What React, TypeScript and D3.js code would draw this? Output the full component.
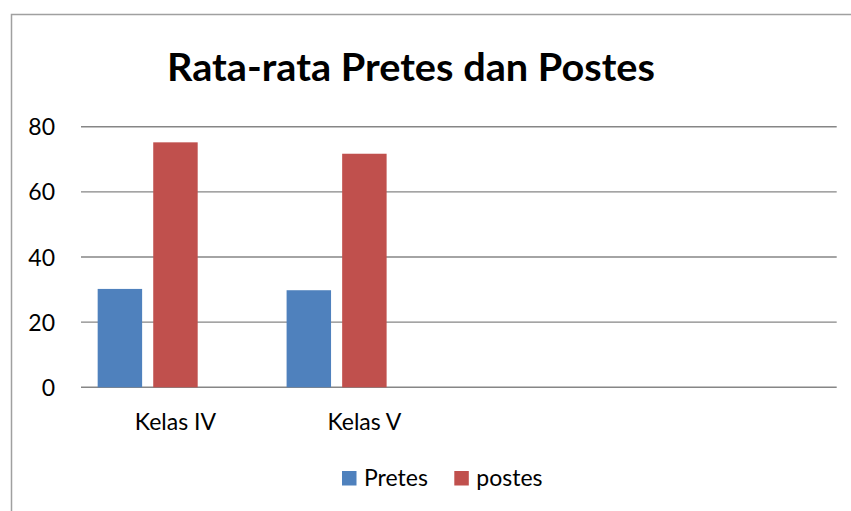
import React, { useRef, useEffect } from "react";
import { select, scaleBand, scaleLinear, axisLeft } from "d3";

// data
const categories = ["Kelas IV", "Kelas V", "", ""];
const seriesNames = ["Pretes", "postes", ""];
const pretes = [30.2, 29.8, null, null];
const postes = [75.2, 71.7, null, null];
const blank = [null, null, null, null];
const yTicks = [0, 20, 40, 60, 80];
const colors = ["#4F81BD", "#C0504D", "#9BBB59"];

const W = 851;
const H = 511;
const FONT = "Lato, Carlito, Calibri, sans-serif";

const App = () => {
  const svgRef = useRef<SVGSVGElement>(null);

  useEffect(() => {
    const svg = select(svgRef.current);
    svg.selectAll("*").remove();

    const plotLeft = 81;
    const plotRight = 836.7;
    const plotTop = 126.7;
    const plotBottom = 387.3;

    const x0 = scaleBand<number>()
      .domain(categories.map((_, i) => i))
      .range([plotLeft, plotRight]);
    const x1 = scaleBand<number>()
      .domain(seriesNames.map((_, i) => i))
      .range([0, x0.bandwidth()])
      .paddingInner(0.2)
      .paddingOuter(0.3);
    const y = scaleLinear().domain([0, 80]).range([plotBottom, plotTop]);

    // outer frame
    svg.append("rect")
      .attr("x", 11.5).attr("y", 14.5)
      .attr("width", W + 10).attr("height", H + 10)
      .attr("fill", "white")
      .attr("stroke", "#a0a0a0")
      .attr("stroke-width", 1.5);

    // title
    svg.append("text")
      .attr("x", 411).attr("y", 81)
      .attr("text-anchor", "middle")
      .attr("font-family", FONT)
      .attr("font-weight", "bold")
      .attr("font-size", 39)
      .attr("textLength", 488)
      .attr("lengthAdjust", "spacingAndGlyphs")
      .text("Rata-rata Pretes dan Postes");

    // gridlines
    svg.append("g")
      .selectAll("line")
      .data(yTicks)
      .join("line")
      .attr("x1", plotLeft).attr("x2", plotRight)
      .attr("y1", d => y(d)).attr("y2", d => y(d))
      .attr("stroke", "#868686")
      .attr("stroke-width", 1.4);

    // y axis labels
    const yAxis = axisLeft(y).tickValues(yTicks).tickSize(0).tickPadding(0);
    const gy = svg.append("g")
      .attr("transform", `translate(55,0)`)
      .call(yAxis);
    gy.select(".domain").remove();
    gy.selectAll("text")
      .attr("font-family", FONT)
      .attr("font-size", 23)
      .attr("fill", "#000")
      .attr("dy", "0.35em");

    // bars
    const allSeries = [pretes, postes, blank];
    allSeries.forEach((vals, s) => {
      svg.append("g")
        .selectAll("rect")
        .data(vals.map((v, i) => ({ v, i })).filter(d => d.v != null))
        .join("rect")
        .attr("x", d => (x0(d.i) as number) + (x1(s) as number))
        .attr("width", x1.bandwidth())
        .attr("y", d => y(d.v as number))
        .attr("height", d => plotBottom - y(d.v as number))
        .attr("fill", colors[s]);
    });

    // category labels
    svg.append("g")
      .selectAll("text")
      .data(categories)
      .join("text")
      .attr("x", (_, i) => (x0(i) as number) + x0.bandwidth() / 2)
      .attr("y", 430)
      .attr("text-anchor", "middle")
      .attr("font-family", FONT)
      .attr("font-size", 23)
      .text(d => d);

    // legend
    const legend = [
      { name: "Pretes", color: colors[0], x: 342 },
      { name: "postes", color: colors[1], x: 454.3 },
    ];
    const lg = svg.append("g");
    lg.selectAll("rect")
      .data(legend)
      .join("rect")
      .attr("x", d => d.x).attr("y", 471)
      .attr("width", 14.5).attr("height", 14.5)
      .attr("fill", d => d.color);
    lg.selectAll("text")
      .data(legend)
      .join("text")
      .attr("x", d => d.x + 22)
      .attr("y", 485.5)
      .attr("font-family", FONT)
      .attr("font-size", 23)
      .text(d => d.name);
  }, []);

  return (
    <svg
      ref={svgRef}
      width={W}
      height={H}
      style={{ position: "absolute", left: 0, top: 0, display: "block" }}
    />
  );
};

export default App;
